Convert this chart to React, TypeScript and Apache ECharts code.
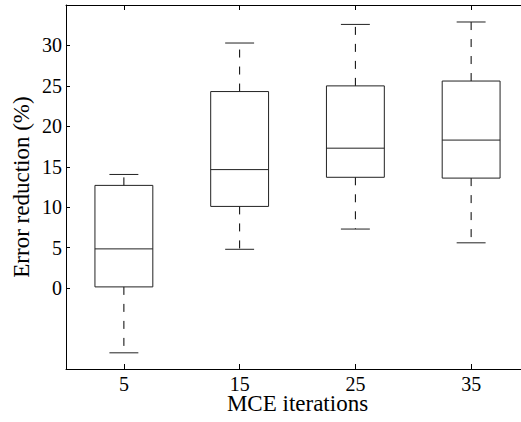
import React, { useEffect, useRef } from "react";
import * as echarts from "echarts";

const categories = ["5", "15", "25", "35"];
const whiskerLow = [-8.0, 4.8, 7.3, 5.6];
const q1 = [0.15, 10.1, 13.7, 13.6];
const median = [4.85, 14.65, 17.3, 18.3];
const q3 = [12.7, 24.3, 25.0, 25.6];
const whiskerHigh = [14.05, 30.3, 32.6, 32.9];
const yTickValues = [0, 5, 10, 15, 20, 25, 30];

const FONT = "Times New Roman";

export default function App() {
  const ref = useRef<HTMLDivElement>(null);
  useEffect(() => {
    if (!ref.current) return;
    const chart = echarts.init(ref.current, null, { renderer: "svg" });
    const data = categories.map((_, i) => [i, whiskerLow[i], q1[i], median[i], q3[i], whiskerHigh[i]]);
    const stroke = "#222";
    chart.setOption({
      animation: false,
      backgroundColor: "#fff",
      textStyle: { fontFamily: FONT },
      grid: { left: 66, top: 5, width: 463, height: 364, show: false, outerBoundsMode: "none", containLabel: false },
      xAxis: [
        {
          type: "category",
          data: categories,
          boundaryGap: true,
          position: "bottom",
          axisLine: { show: true, onZero: false, lineStyle: { color: "#000", width: 1 } },
          axisTick: { show: true, inside: true, length: 5, alignWithLabel: true, lineStyle: { color: "#000" } },
          axisLabel: { fontFamily: FONT, fontSize: 20, lineHeight: 14, color: "#000", margin: 8 },
          splitLine: { show: false },
          name: "MCE iterations",
          nameLocation: "middle",
          nameGap: 25,
          nameMoveOverlap: false,
          nameTextStyle: { fontFamily: FONT, fontSize: 23, lineHeight: 18, color: "#000" },
        },
        {
          type: "category",
          data: categories,
          boundaryGap: true,
          position: "top",
          axisLine: { show: true, onZero: false, lineStyle: { color: "#000", width: 1 } },
          axisTick: { show: true, inside: true, length: 5, alignWithLabel: true, lineStyle: { color: "#000" } },
          axisLabel: { show: false },
          splitLine: { show: false },
        },
      ],
      yAxis: {
        type: "value",
        min: -10,
        max: 35,
        interval: 5,
        axisLine: { show: true, onZero: false, lineStyle: { color: "#000", width: 1 } },
        axisTick: { show: true, inside: true, length: 4, customValues: yTickValues, lineStyle: { color: "#000" } },
        axisLabel: { fontFamily: FONT, fontSize: 20, color: "#000", margin: 4, customValues: yTickValues },
        splitLine: { show: false },
        name: "Error reduction (%)",
        nameLocation: "middle",
        nameGap: 33,
        nameMoveOverlap: false,
        nameTextStyle: { fontFamily: FONT, fontSize: 23, color: "#000" },
      },
      series: [
        {
          type: "custom",
          xAxisIndex: 0,
          yAxisIndex: 0,
          data,
          renderItem: (params: any, api: any) => {
            const xi = api.value(0);
            const band = api.size([1, 0])[0];
            const bw = band * 0.5;
            const cw = band * 0.25;
            const pLow = api.coord([xi, api.value(1)]);
            const pQ1 = api.coord([xi, api.value(2)]);
            const pMed = api.coord([xi, api.value(3)]);
            const pQ3 = api.coord([xi, api.value(4)]);
            const pHigh = api.coord([xi, api.value(5)]);
            const cx = pMed[0];
            const ls = { stroke, lineWidth: 1, fill: null };
            const dash = { stroke: "#000", lineWidth: 1, lineDash: [8, 9], fill: null };
            return {
              type: "group",
              children: [
                { type: "line", shape: { x1: cx, y1: pQ3[1], x2: cx, y2: pHigh[1] }, style: dash },
                { type: "line", shape: { x1: cx, y1: pQ1[1], x2: cx, y2: pLow[1] }, style: dash },
                { type: "line", shape: { x1: cx - cw / 2, y1: pHigh[1], x2: cx + cw / 2, y2: pHigh[1] }, style: ls },
                { type: "line", shape: { x1: cx - cw / 2, y1: pLow[1], x2: cx + cw / 2, y2: pLow[1] }, style: ls },
                {
                  type: "rect",
                  shape: { x: cx - bw / 2, y: pQ3[1], width: bw, height: pQ1[1] - pQ3[1] },
                  style: { stroke, lineWidth: 1, fill: "none" },
                },
                { type: "line", shape: { x1: cx - bw / 2, y1: pMed[1], x2: cx + bw / 2, y2: pMed[1] }, style: ls },
              ],
            };
          },
        },
      ],
    });
    return () => chart.dispose();
  }, []);
  return (
    <div
      ref={ref}
      style={{ position: "fixed", left: 0, top: 0, width: 521, height: 422, background: "#fff" }}
    />
  );
}
